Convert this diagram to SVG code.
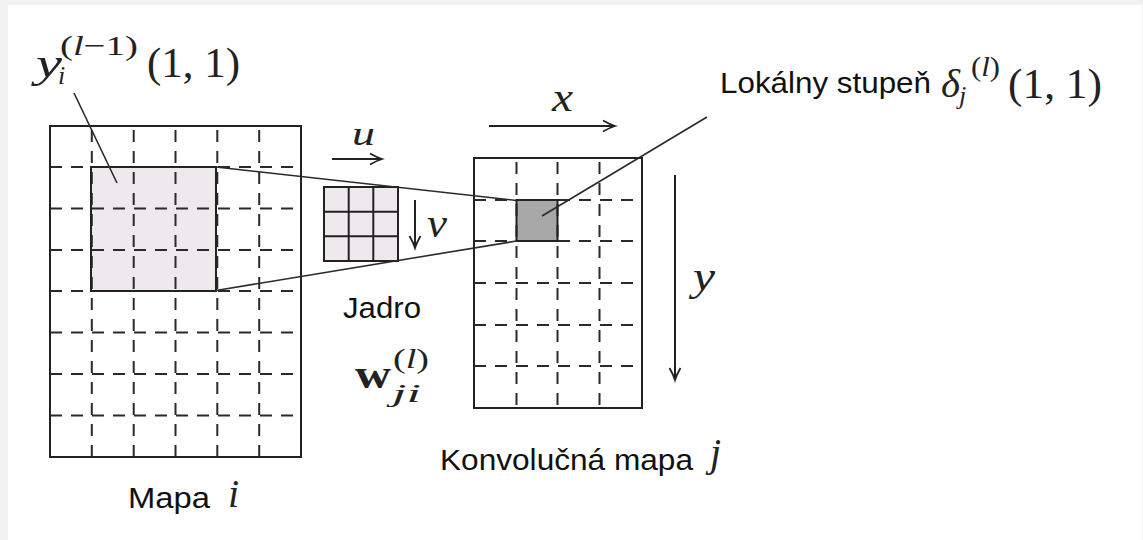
<svg xmlns="http://www.w3.org/2000/svg" width="1143" height="540" viewBox="0 0 1143 540">
<style>
.frame{fill:none;stroke:#222;stroke-width:2}
.dash{stroke:#2a2a2a;stroke-width:2;stroke-dasharray:12 9;fill:none}
.solid{stroke:#222;stroke-width:2;fill:none}
.lead{stroke:#2a2a2a;stroke-width:1.6;fill:none}
.arr{stroke:#222;stroke-width:2;fill:none;marker-end:url(#ah)}
.sans{font-family:"Liberation Sans",Arial,sans-serif;font-size:29px;fill:#111}
.m{font-family:"Liberation Serif","Times New Roman",serif;fill:#222}
.it{font-style:italic}
</style>
<defs>
<marker id="ah" markerUnits="userSpaceOnUse" markerWidth="16" markerHeight="14" refX="13" refY="7" orient="auto">
<path d="M1,1.5 Q8,5.5 13,7 Q8,8.5 1,12.5" fill="none" stroke="#222" stroke-width="1.8"/>
</marker>
</defs>
<rect x="0" y="0" width="1143" height="540" fill="#f2f2f2"/>
<rect x="8" y="5" width="1134" height="535" fill="#ffffff"/>

<g id="map-i">
<rect x="91" y="167" width="125" height="124" fill="#efe9ee"/>
<g class="dash">
<line x1="91.8" y1="126" x2="91.8" y2="457" stroke-dashoffset="-4"/>
<line x1="133.7" y1="126" x2="133.7" y2="457" stroke-dashoffset="-4"/>
<line x1="175.5" y1="126" x2="175.5" y2="457" stroke-dashoffset="-4"/>
<line x1="217.3" y1="126" x2="217.3" y2="457" stroke-dashoffset="-4"/>
<line x1="259.2" y1="126" x2="259.2" y2="457" stroke-dashoffset="-4"/>
<line x1="50" y1="167" x2="301" y2="167"/>
<line x1="50" y1="208.5" x2="301" y2="208.5"/>
<line x1="50" y1="250" x2="301" y2="250"/>
<line x1="50" y1="291" x2="301" y2="291"/>
<line x1="50" y1="332.5" x2="301" y2="332.5"/>
<line x1="50" y1="374" x2="301" y2="374"/>
<line x1="50" y1="415.5" x2="301" y2="415.5"/>
</g>
<rect x="50" y="126" width="251" height="331" class="frame"/>
<rect x="91" y="167" width="125" height="124" class="solid"/>
<text class="sans" x="128" y="508" textLength="82" lengthAdjust="spacingAndGlyphs">Mapa</text>
<text class="m it" x="228" y="507" font-size="40">i</text>
</g>

<g id="kernel">
<rect x="324" y="187" width="74" height="74" fill="#efe9ee"/>
<g class="solid" stroke-width="2.4">
<rect x="324" y="187" width="74" height="74"/>
<line x1="348.7" y1="187" x2="348.7" y2="261"/>
<line x1="373.3" y1="187" x2="373.3" y2="261"/>
<line x1="324" y1="211.7" x2="398" y2="211.7"/>
<line x1="324" y1="236.3" x2="398" y2="236.3"/>
</g>
<text class="sans" x="343" y="318" textLength="78" lengthAdjust="spacingAndGlyphs">Jadro</text>
<text class="m" x="355" y="388" font-size="42" font-weight="bold" textLength="36" lengthAdjust="spacingAndGlyphs">w</text>
<text class="m" x="393" y="368" font-size="27" textLength="36" lengthAdjust="spacingAndGlyphs">(<tspan class="it">l</tspan>)</text>
<text class="m it" x="392" y="402" font-size="26" textLength="29" lengthAdjust="spacingAndGlyphs">ji</text>
</g>

<g id="map-j">
<rect x="516.5" y="200" width="41" height="41" fill="#a8a8a8"/>
<g class="dash">
<line x1="516.5" y1="158" x2="516.5" y2="408" stroke-dashoffset="-4"/>
<line x1="557.5" y1="158" x2="557.5" y2="408" stroke-dashoffset="-4"/>
<line x1="599.5" y1="158" x2="599.5" y2="408" stroke-dashoffset="-4"/>
<line x1="474" y1="200" x2="642" y2="200"/>
<line x1="474" y1="241" x2="642" y2="241"/>
<line x1="474" y1="283" x2="642" y2="283"/>
<line x1="474" y1="325" x2="642" y2="325"/>
<line x1="474" y1="366" x2="642" y2="366"/>
</g>
<rect x="474" y="158" width="168" height="250" class="frame"/>
<rect x="516.5" y="200" width="41" height="41" class="solid"/>
<text class="sans" x="440" y="470" textLength="253" lengthAdjust="spacingAndGlyphs">Konvolučná mapa</text>
<text class="m it" x="710" y="466" font-size="40">j</text>
</g>

<g id="label-y">
<text class="m it" x="36" y="77" font-size="42" textLength="26" lengthAdjust="spacingAndGlyphs">y</text>
<text class="m it" x="58" y="84" font-size="26">i</text>
<text class="m" x="60" y="55" font-size="28" textLength="78" lengthAdjust="spacingAndGlyphs">(<tspan class="it">l</tspan>−1)</text>
<text class="m" x="147" y="77" font-size="42" textLength="93" lengthAdjust="spacingAndGlyphs">(1, 1)</text>
</g>

<g id="label-delta">
<text class="sans" x="720" y="93" textLength="211" lengthAdjust="spacingAndGlyphs">Lokálny stupeň</text>
<text class="m it" x="941" y="97" font-size="40" textLength="19" lengthAdjust="spacingAndGlyphs">δ</text>
<text class="m it" x="959" y="104" font-size="26">j</text>
<text class="m" x="971" y="76" font-size="28" textLength="29" lengthAdjust="spacingAndGlyphs">(<tspan class="it">l</tspan>)</text>
<text class="m" x="1008" y="98" font-size="42" textLength="94" lengthAdjust="spacingAndGlyphs">(1, 1)</text>
</g>

<g id="axes">
<text class="m it" x="352" y="145" font-size="34" textLength="23" lengthAdjust="spacingAndGlyphs">u</text>
<text class="m it" x="427" y="237" font-size="40" textLength="20" lengthAdjust="spacingAndGlyphs">v</text>
<text class="m it" x="552" y="111" font-size="40" textLength="21" lengthAdjust="spacingAndGlyphs">x</text>
<text class="m it" x="693" y="290" font-size="40" textLength="22" lengthAdjust="spacingAndGlyphs">y</text>
</g>

<g id="connectors">
<line class="lead" x1="216" y1="167" x2="516.5" y2="200.5"/>
<line class="lead" x1="216" y1="290.5" x2="516.5" y2="241"/>
<line class="lead" x1="74" y1="93" x2="117" y2="183"/>
<line class="lead" x1="542" y1="216" x2="707" y2="117"/>
<line class="arr" x1="332" y1="159" x2="382" y2="159"/>
<line class="arr" x1="489" y1="126" x2="615" y2="126"/>
<line class="arr" x1="415" y1="200" x2="415" y2="248"/>
<line class="arr" x1="675" y1="175" x2="675" y2="380"/>
</g>
</svg>
